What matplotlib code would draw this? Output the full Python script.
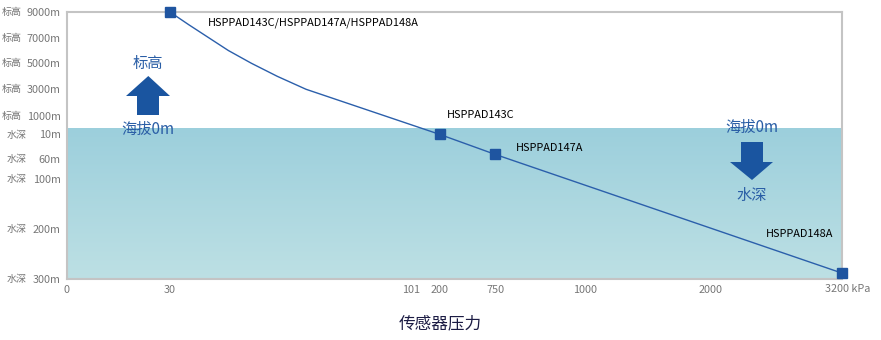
import numpy as np
import matplotlib
matplotlib.use("Agg")
import matplotlib.pyplot as plt
from matplotlib.patches import Polygon
from matplotlib.transforms import blended_transform_factory
from matplotlib.colors import LinearSegmentedColormap

plt.rcParams['font.family'] = ['Noto Sans CJK SC', 'DejaVu Sans']

# ---------------- data ----------------
pressure_kpa = [30, 35.6, 47.2, 54.0, 61.6, 70.1, 200, 750, 3200]
elevation_m = [9000, 8000, 6000, 5000, 4000, 3000, -10, -50, -288]
marker_kpa = [30, 200, 750, 3200]
marker_m = [9000, -10, -50, -288]
marker_labels = ["HSPPAD143C/HSPPAD147A/HSPPAD148A", "HSPPAD143C",
                 "HSPPAD147A", "HSPPAD148A"]

x_ticks = [0, 30, 101, 200, 750, 1000, 2000, 3200]
x_tick_labels = ["0", "30", "101", "200", "750", "1000", "2000", "3200"]
y_ticks = [9000, 7000, 5000, 3000, 1000, -10, -60, -100, -200, -300]
y_tick_kind = ["标高"] * 5 + ["水深"] * 5
y_tick_values = ["9000m", "7000m", "5000m", "3000m", "1000m",
                 "10m", "60m", "100m", "200m", "300m"]

# ---------------- axis scale layout (piecewise) ----------------
x_knots = [0, 30, 101, 200, 750, 1000, 2000, 3200]
x_knot_pos = [0, 0.1329, 0.4440, 0.4815, 0.5525, 0.6687, 0.8313, 1.0]
y_knots = [-300, -200, -100, -60, -10, 0, 1000, 3000, 5000, 7000, 9000]
y_knot_pos = [0, 0.1873, 0.3734, 0.4483, 0.5412, 0.5618, 0.6116,
              0.7105, 0.8079, 0.9037, 1.0]


def make_interp(xs, ys):
    xs = np.asarray(xs, float)
    ys = np.asarray(ys, float)

    def f(v):
        v = np.asarray(v, float)
        out = np.interp(v, xs, ys)
        lo_s = (ys[1] - ys[0]) / (xs[1] - xs[0])
        hi_s = (ys[-1] - ys[-2]) / (xs[-1] - xs[-2])
        out = np.where(v < xs[0], ys[0] + (v - xs[0]) * lo_s, out)
        out = np.where(v > xs[-1], ys[-1] + (v - xs[-1]) * hi_s, out)
        return out
    return f


xf = make_interp(x_knots, x_knot_pos)
xi = make_interp(x_knot_pos, x_knots)
yf = make_interp(y_knots, y_knot_pos)
yi = make_interp(y_knot_pos, y_knots)

W, H = 881, 340
fig = plt.figure(figsize=(W / 100, H / 100), dpi=100)
L, R, T, B = 67, 841.7, 12, 279
ax = fig.add_axes([L / W, 1 - B / H, (R - L) / W, (B - T) / H])

ax.set_xscale('function', functions=(xf, xi))
ax.set_yscale('function', functions=(yf, yi))

# water gradient
water_top = float(yf(0))
cmap = LinearSegmentedColormap.from_list("water", ["#bde0e4", "#9ccfdc"])
grad = np.linspace(0, 1, 256).reshape(-1, 1)
ax.imshow(grad, cmap=cmap, origin='lower', aspect='auto',
          extent=[0, 1, 0, water_top], transform=ax.transAxes, zorder=0)

# line and markers
line_color = "#2b5fab"
ax.plot(pressure_kpa, elevation_m, color=line_color, lw=1.0, zorder=3)
ax.plot(marker_kpa, marker_m, ls='none', marker='s', ms=6.5,
        color="#1f55a0", zorder=4, clip_on=False)

offsets = [(38, -10.7), (7, 19), (21, 6), (-76, 38.7)]
for kx, my, lab, off in zip(marker_kpa, marker_m, marker_labels, offsets):
    ax.annotate(lab, (kx, my), xytext=off, textcoords='offset pixels',
                ha='left', va='center', fontsize=7.9, color='black',
                annotation_clip=False)

ax.set_xlim(0, 3200)
ax.set_ylim(-300, 9000)

# ticks
ax.set_xticks(x_ticks)
ax.set_xticklabels(x_tick_labels)
ax.set_yticks(y_ticks)
ax.set_yticklabels(y_tick_values)
ax.tick_params(axis='both', length=0, labelsize=7.8, labelcolor='#777777')
ax.tick_params(axis='y', pad=4.5)
ax.tick_params(axis='x', pad=4)
ax.xaxis.get_majorticklabels()[-1].set_visible(False)
ax.annotate("3200 kPa", (3200, -300), xytext=(-17, -10.5),
            textcoords='offset pixels', ha='left', va='center',
            fontsize=7.8, color='#777777', annotation_clip=False)

tr = blended_transform_factory(fig.transFigure, ax.transData)
for yv, kind in zip(y_ticks, y_tick_kind):
    xpix = 2 if kind == "标高" else 7
    ax.text(xpix / W, yv, kind, transform=tr, ha='left', va='center',
            fontsize=7.2, color='#777777')

for s in ax.spines.values():
    s.set_color('#c4c4c4')
    s.set_linewidth(1.5)


def af(px, py):
    return ((px - L) / (R - L), (B - py) / (B - T))


arrow_color = "#1a55a0"
text_color = "#2a5ea6"
# up arrow
up = [af(148.3, 76), af(170, 96), af(159, 96), af(159, 115),
      af(137, 115), af(137, 96), af(126, 96)]
ax.add_patch(Polygon(up, closed=True, transform=ax.transAxes,
                     color=arrow_color, zorder=2, lw=0))
ax.text(*af(147.5, 63), "标高", transform=ax.transAxes, ha='center',
        va='center', fontsize=11, color=text_color)
ax.text(*af(147.5, 129), "海拔0m", transform=ax.transAxes, ha='center',
        va='center', fontsize=11, color=text_color, zorder=5)
# down arrow
down = [af(752, 180), af(773, 162), af(763, 162), af(763, 142),
        af(741, 142), af(741, 162), af(730, 162)]
ax.add_patch(Polygon(down, closed=True, transform=ax.transAxes,
                     color=arrow_color, zorder=2, lw=0))
ax.text(*af(752, 127), "海拔0m", transform=ax.transAxes, ha='center',
        va='center', fontsize=11, color=text_color, zorder=5)
ax.text(*af(752, 195), "水深", transform=ax.transAxes, ha='center',
        va='center', fontsize=11, color=text_color)

fig.text(440 / W, 1 - 324 / H, "传感器压力", ha='center', va='center',
         fontsize=12, color='#1c1c44')

fig.savefig("out.png", dpi=100)
